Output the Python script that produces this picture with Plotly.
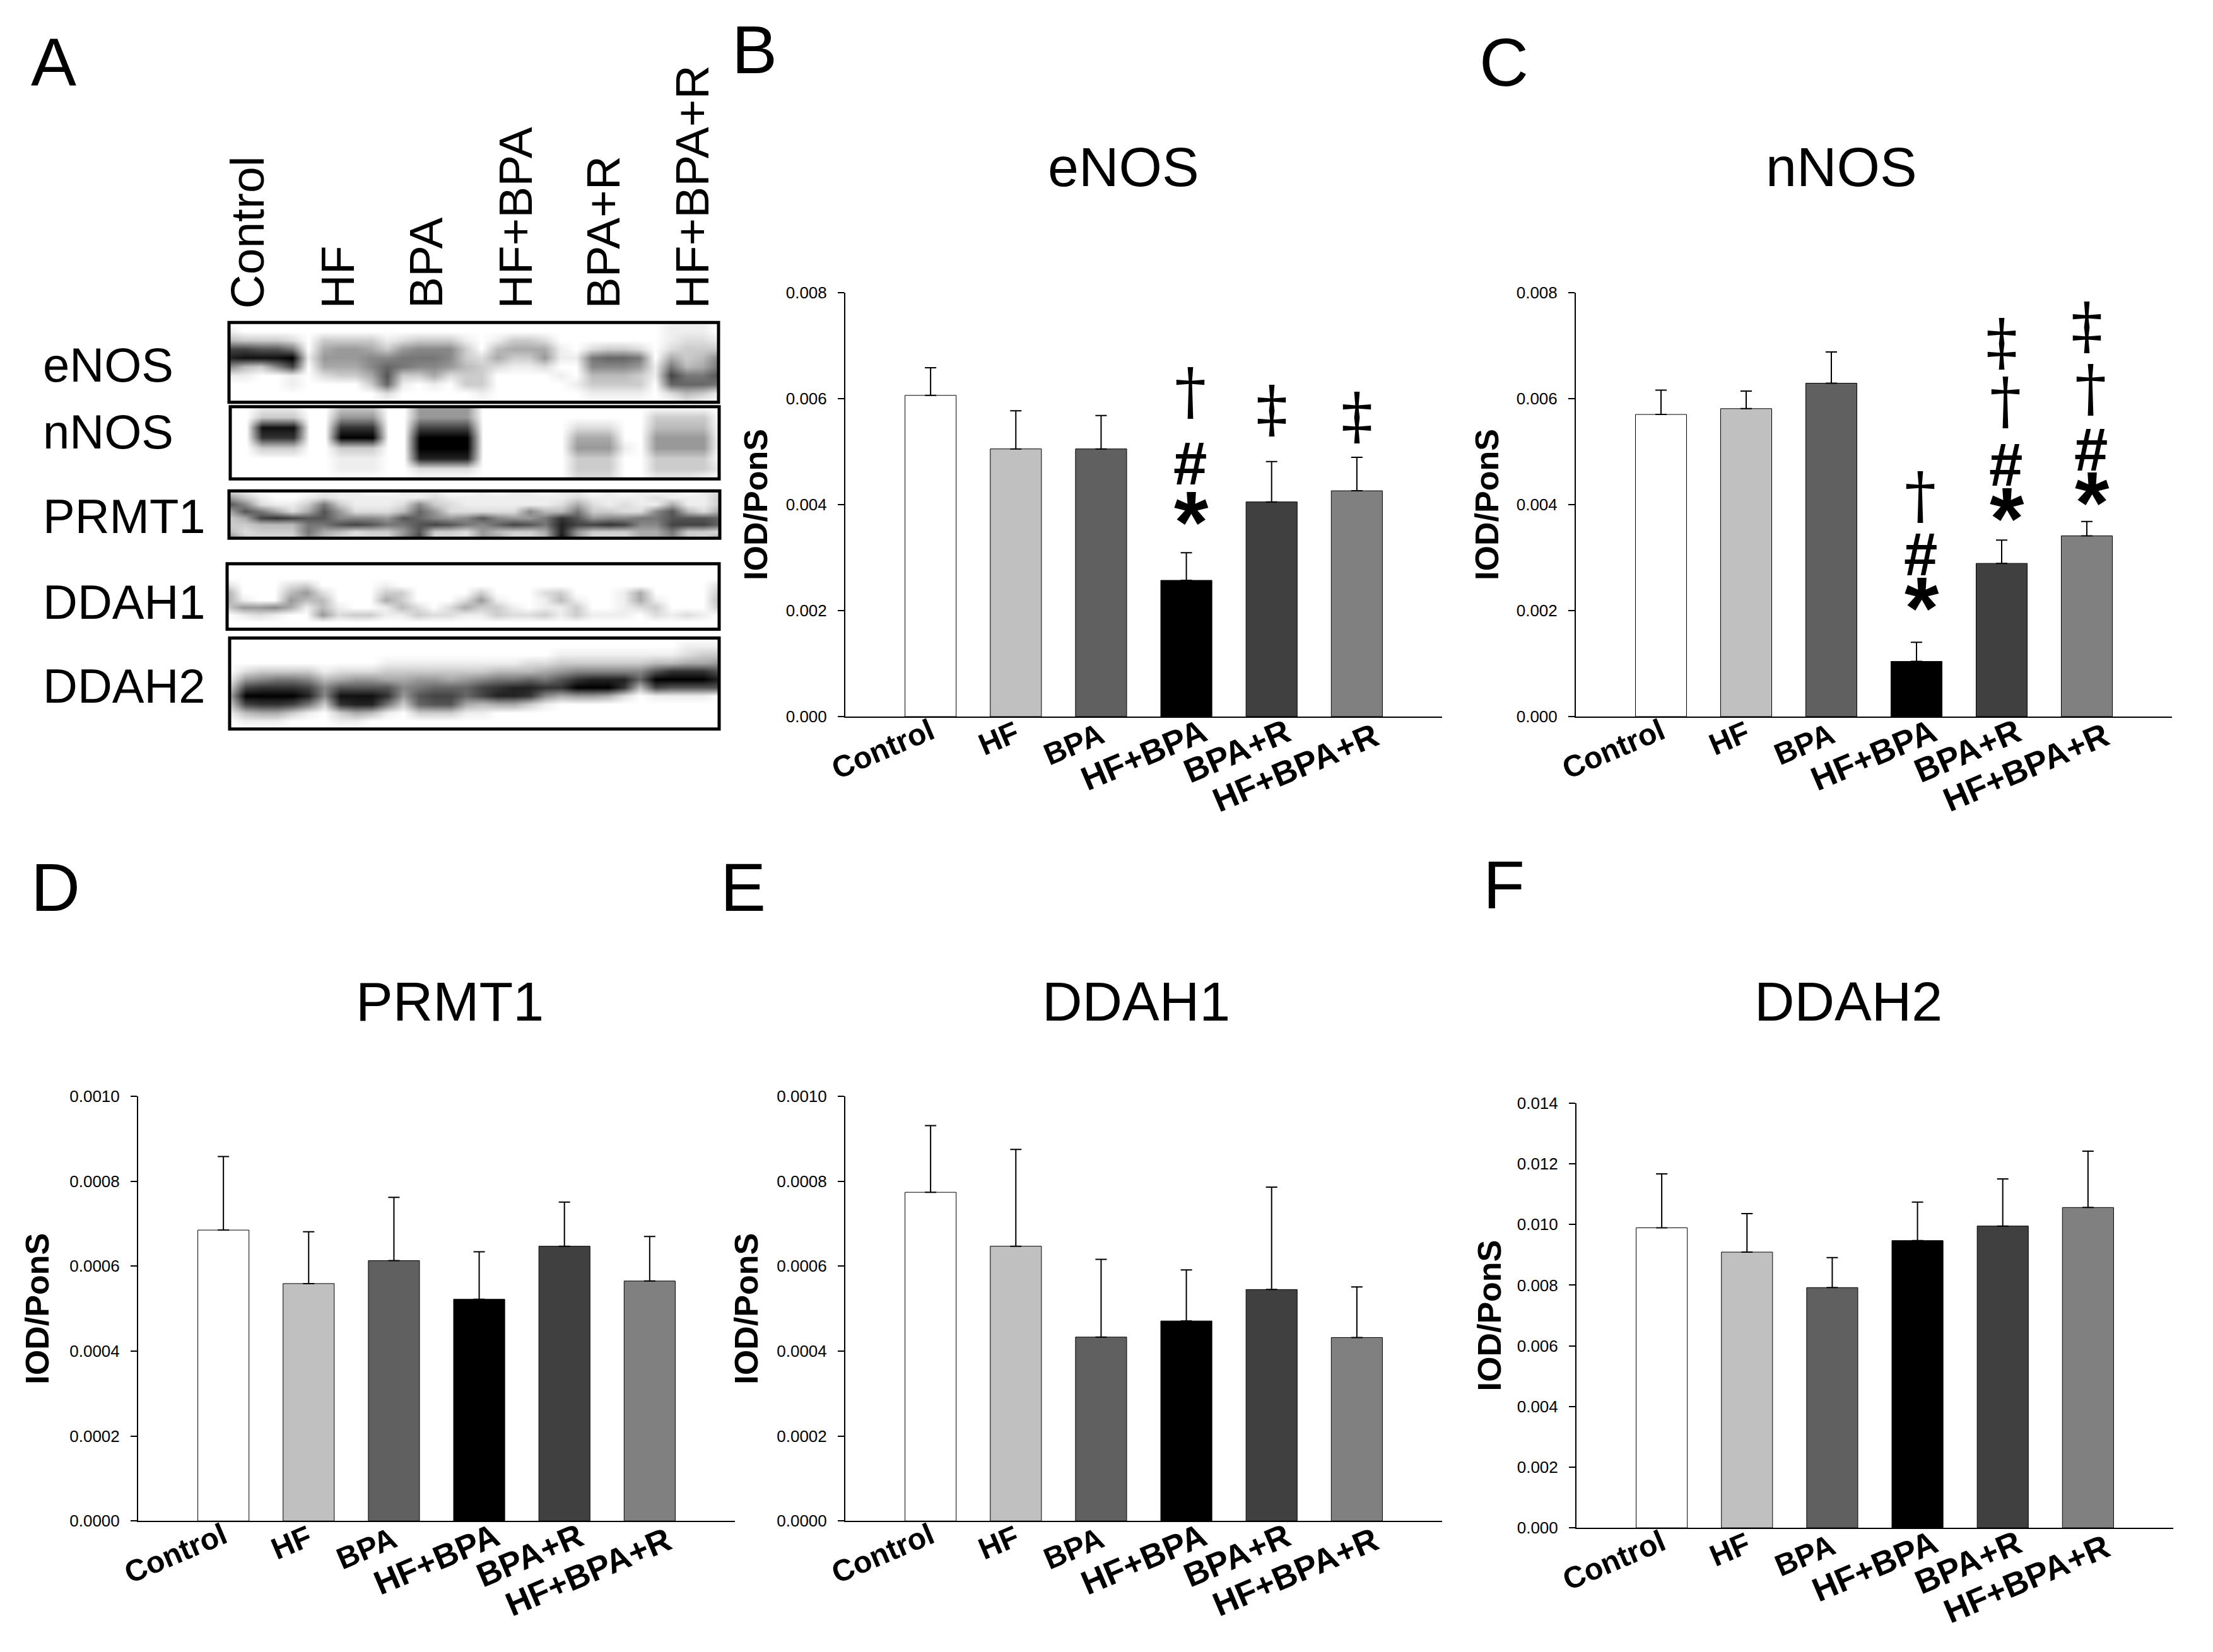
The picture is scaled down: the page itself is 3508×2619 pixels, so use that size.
# western blot panel with five bar charts of densitometry (IOD/PonS)

import plotly.graph_objects as go

W = 3508
H = 2619

groups = ['Control', 'HF', 'BPA', 'HF+BPA', 'BPA+R', 'HF+BPA+R']
bar_colors = ['#ffffff', '#c0c0c0', '#606060', '#000000', '#404040', '#808080']

enos = [0.00606, 0.00505, 0.00505, 0.00257, 0.00405, 0.00426]
enos_top = [0.00658, 0.00577, 0.00568, 0.00309, 0.00481, 0.00489]
nnos = [0.00570, 0.00581, 0.00629, 0.00104, 0.00289, 0.00341]
nnos_top = [0.00616, 0.00614, 0.00688, 0.00140, 0.00333, 0.00368]
prmt1 = [0.000685, 0.000559, 0.000613, 0.000522, 0.000647, 0.000565]
prmt1_top = [0.000858, 0.000681, 0.000762, 0.000634, 0.000751, 0.000670]
ddah1 = [0.000774, 0.000647, 0.000433, 0.000471, 0.000545, 0.000432]
ddah1_top = [0.000931, 0.000875, 0.000616, 0.000591, 0.000786, 0.000551]
ddah2 = [0.00989, 0.00909, 0.00792, 0.00947, 0.00995, 0.01056]
ddah2_top = [0.01167, 0.01036, 0.00891, 0.01074, 0.01150, 0.01242]

blot_enos = [
    "00000000 00000000 00000000 00001110",
    "10000000 00000000 00000000 00001110",
    "43332033 33123331 01332000 00001221",
    "bbaa8056 65367773 04555102 33202333",
    "deeef166 67788873 25336118 99805347",
    "7437b055 57987764 32112007 77618458",
    "11001023 35a33523 30000104 4431b88a",
    "00001000 03910103 30000013 33309998",
    "00000000 00200000 10000001 11102431",
    "00000000 00000000 00000000 00000100",
]
blot_nnos = [
    "00111003 33006666 00000000 00000000",
    "00333006 66006666 00000000 00033330",
    "00eee00c cc00bbbb 00000022 20044440",
    "00ccc00f ff00ffff 00000055 50066660",
    "00333003 3300ffff 00000066 61066660",
    "00000001 1100dddd 00000033 30033330",
    "00000001 11002222 00000033 30033331",
    "00000000 00000000 00000022 20011100",
]
blot_prmt1 = [
    "21000011 10011100 10110110 10101012",
    "63100121 11111211 11111121 11121113",
    "a7211383 11127321 11111252 12115113",
    "5a8525a6 22249622 22274483 3227a425",
    "35bcbaa7 776a9767 a7668ca6 7788aaa9",
    "3344488a ba88aba8 79ba8dbb cb77bbb9",
    "42333854 2336a332 64335d63 33558332",
    "73222742 2227b222 65224e62 22557325",
]
blot_ddah1 = [
    "00000000 00000000 00000000 00000000",
    "00000000 00000000 00000000 00000000",
    "00000000 00000000 00000000 00000000",
    "20002300 00100000 00000000 00000002",
    "50004620 00330000 30002300 01500003",
    "51006440 00530002 61001410 01510004",
    "36675141 00142025 33101130 01230003",
    "01210062 33113221 13223131 11021210",
    "00000000 00000000 00000000 00000000",
    "00000000 00000000 00000000 00000000",
]
blot_ddah2 = [
    "00000000 00000000 00000000 00000000",
    "00000000 00000000 00000000 00000111",
    "00000000 00000000 00000111 11111233",
    "00000000 00111111 11122333 33344556",
    "02333312 22333333 34445677 777accca",
    "16788745 66556656 78898acd dd9ffffd",
    "3bcccb7a aaa78999 bcddccff fc4baaaa",
    "5ffffd7e eec6abb9 bddc7566 52011110",
    "3bccb83c dd839aa5 45531000 00000000",
    "14553103 54103331 10000000 00000000",
    "01110001 10000000 00000000 00000000",
    "00000000 00000000 00000000 00000000",
]

# significance marks: group index, symbol, level on the y axis
marks_enos = [(3, '†', 0.00601), (3, '#', 0.00478), (3, '*', 0.00384),
              (4, '‡', 0.00581), (5, '‡', 0.00568)]
marks_nnos = [(3, '†', 0.00404), (3, '#', 0.00306), (3, '*', 0.00222),
              (4, '‡', 0.00708), (4, '†', 0.00582), (4, '#', 0.00476), (4, '*', 0.00391),
              (5, '‡', 0.00739), (5, '†', 0.00606), (5, '#', 0.00504), (5, '*', 0.00421)]

# panel layout in picture pixels
panels = [
    dict(name='eNOS', y=enos, top=enos_top, box=(1340, 2286, 454, 1134), ymax=0.008, dtick=0.002, fmt='.3f',
         title_xy=(1781, 252), ytitle=-142, marks=marks_enos),
    dict(name='nNOS', y=nnos, top=nnos_top, box=(2498, 3443, 454, 1134), ymax=0.008, dtick=0.002, fmt='.3f',
         title_xy=(2919, 252), ytitle=-141, marks=marks_nnos),
    dict(name='PRMT1', y=prmt1, top=prmt1_top, box=(219, 1165, 1743, 2424), ymax=0.001, dtick=0.0002, fmt='.4f',
         title_xy=(713, 1591), ytitle=-160, marks=[]),
    dict(name='DDAH1', y=ddah1, top=ddah1_top, box=(1340, 2286, 1743, 2424), ymax=0.001, dtick=0.0002, fmt='.4f',
         title_xy=(1801, 1591), ytitle=-157, marks=[]),
    dict(name='DDAH2', y=ddah2, top=ddah2_top, box=(2499, 3445, 1754, 2435), ymax=0.014, dtick=0.002, fmt='.3f',
         title_xy=(2930, 1591), ytitle=-138, marks=[]),
]
label_shift = [(-76, 51), (-27, 34), (-43, 43), (-68, 60), (-55, 54), (-97, 80)]
label_size = [48, 48, 48, 53, 53, 53]
mark_shift = {'†': 6, '‡': 0, '#': 6, '*': 8}
mark_font = {'†': dict(size=100, family='DejaVu Serif', color='black'),
             '‡': dict(size=100, family='DejaVu Serif', color='black'),
             '#': dict(size=96, family='Liberation Sans', color='black', weight='bold'),
             '*': dict(size=140, family='Liberation Sans', color='black', weight='bold')}
mark_yshift = {'†': 12, '‡': 0, '#': 0, '*': -14}

blots = [
    dict(name='eNOS', rows=blot_enos, box=(363, 1139, 502, 630), label_y=570),
    dict(name='nNOS', rows=blot_nnos, box=(365, 1140, 637, 753), label_y=677),
    dict(name='PRMT1', rows=blot_prmt1, box=(363, 1141, 772, 848), label_y=813),
    dict(name='DDAH1', rows=blot_ddah1, box=(360, 1140, 889, 994), label_y=950),
    dict(name='DDAH2', rows=blot_ddah2, box=(364, 1140, 1008, 1154), label_y=1085),
]
lane_x = [392, 535, 675, 817, 956, 1097]
letters = [('A', 85, 84), ('B', 1196, 64), ('C', 2384, 84), ('D', 88, 1408), ('E', 1178, 1408), ('F', 2384, 1404)]

SANS = 'Liberation Sans'


def px(x):
    return x / W


def py(y):
    return 1 - y / H


# plotly calls the first axis pair x / y, not x1 / y1
def suffix(n):
    return '' if n == 1 else str(n)


fig = go.Figure()
annotations = []
shapes = []
axes = {}

# bar charts
for i, p in enumerate(panels):
    n = suffix(i + 1)
    x0, x1, ytop, ybot = p['box']
    xname = f'x{n}'
    yname = f'y{n}'
    err = [t - v for t, v in zip(p['top'], p['y'])]
    fig.add_trace(go.Bar(
        x=groups, y=p['y'], xaxis=xname, yaxis=yname, width=0.6,
        marker=dict(color=bar_colors, line=dict(color='black', width=1)),
        error_y=dict(type='data', symmetric=False, array=err, arrayminus=[0] * 6,
                     color='black', thickness=2, width=9),
        showlegend=False,
    ))
    axes[f'xaxis{n}'] = dict(domain=[px(x0), px(x1)], anchor=yname, type='category', categoryorder='array',
                             categoryarray=groups, range=[-1, 6], showticklabels=False, ticks='',
                             showgrid=False, zeroline=False, showline=True, linecolor='black', linewidth=2)
    axes[f'yaxis{n}'] = dict(domain=[py(ybot), py(ytop)], anchor=xname, range=[0, p['ymax']], dtick=p['dtick'],
                             tick0=0, tickformat=p['fmt'], ticks='outside', ticklen=10, tickwidth=2,
                             tickcolor='black', showgrid=False, zeroline=False, showline=True,
                             linecolor='black', linewidth=2, ticklabelstandoff=12,
                             tickfont=dict(family=SANS, size=26, color='black'))
    # rotated group labels staggered under the axis
    for g, (dx, dy), size in zip(groups, label_shift, label_size):
        annotations.append(dict(text=g, x=g, y=0, xref=xname, yref=yname, xshift=dx, yshift=-dy, showarrow=False,
                                textangle=-23, xanchor='center', yanchor='middle',
                                font=dict(family=SANS, size=size, color='black', weight='bold')))
    annotations.append(dict(text='IOD/PonS', xref=f'{xname} domain', yref=f'{yname} domain', x=0, y=0.5,
                            xshift=p['ytitle'], showarrow=False, textangle=-90, xanchor='center', yanchor='middle',
                            font=dict(family=SANS, size=52, color='black', weight='bold')))
    annotations.append(dict(text=p['name'], xref='paper', yref='paper', x=px(p['title_xy'][0]), y=py(p['title_xy'][1]),
                            showarrow=False, xanchor='center', yanchor='middle',
                            font=dict(family=SANS, size=88, color='black')))
    for g, sym, level in p['marks']:
        annotations.append(dict(text=sym, x=groups[g], y=level, xref=xname, yref=yname, showarrow=False,
                                xshift=mark_shift[sym], yshift=mark_yshift[sym], xanchor='center', yanchor='middle',
                                font=mark_font[sym]))

# blots
for i, b in enumerate(blots):
    n = suffix(len(panels) + i + 1)
    x0, x1, ytop, ybot = b['box']
    z = [[int(c, 16) for c in row.replace(' ', '')] for row in b['rows']]
    fig.add_trace(go.Heatmap(z=z, xaxis=f'x{n}', yaxis=f'y{n}', zmin=0, zmax=15, zsmooth='best', showscale=False,
                             colorscale=[[0, '#ffffff'], [1, '#000000']], hoverinfo='skip'))
    axes[f'xaxis{n}'] = dict(domain=[px(x0), px(x1)], anchor=f'y{n}', visible=False,
                             range=[0, len(z[0]) - 1])
    axes[f'yaxis{n}'] = dict(domain=[py(ybot), py(ytop)], anchor=f'x{n}', visible=False,
                             range=[len(z) - 1, 0])
    shapes.append(dict(type='rect', xref=f'x{n} domain', yref=f'y{n} domain', x0=0, x1=1, y0=0, y1=1,
                       line=dict(color='black', width=5), layer='above'))
    annotations.append(dict(text=b['name'], xref='paper', yref='paper', x=px(66), y=py(b['label_y']), showarrow=False,
                            xanchor='left', yanchor='middle', font=dict(family=SANS, size=76, color='black')))

# lane labels over the blots
for g, lx in zip(groups, lane_x):
    annotations.append(dict(text=g, xref='paper', yref='paper', x=px(lx), y=py(482), showarrow=False, textangle=-90,
                            xanchor='center', yanchor='bottom', font=dict(family=SANS, size=75, color='black')))

for letter, lx, ly in letters:
    annotations.append(dict(text=letter, xref='paper', yref='paper', x=px(lx), y=py(ly), showarrow=False,
                            xanchor='center', yanchor='middle', font=dict(family=SANS, size=108, color='black')))

fig.update_layout(width=W, height=H, margin=dict(l=0, r=0, t=0, b=0), paper_bgcolor='white', plot_bgcolor='white',
                  showlegend=False, annotations=annotations, shapes=shapes, **axes)

fig.write_html("out.html", config=dict(displayModeBar=False), post_script="document.body.style.margin='0'")
